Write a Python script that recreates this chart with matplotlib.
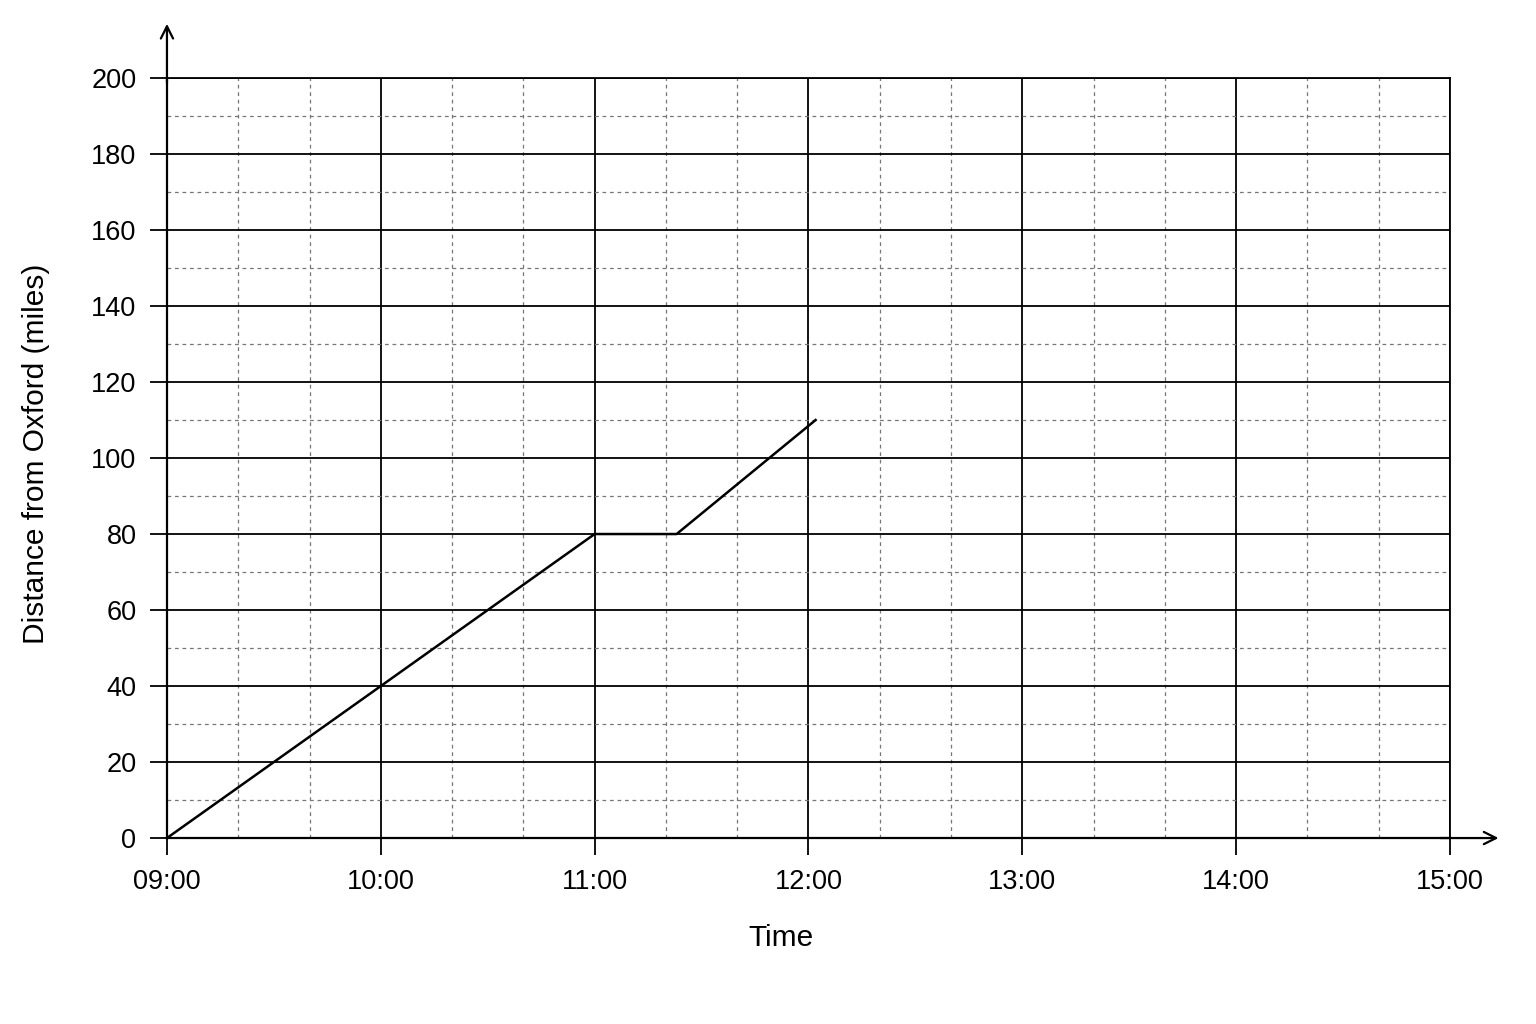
import matplotlib
matplotlib.use("Agg")
import matplotlib.pyplot as plt
import numpy as np

plt.rcParams['font.family'] = ['Liberation Sans', 'DejaVu Sans']

# Data (time in hours, distance in miles)
time_hours = [9.0, 11.0, 11 + 23/60, 12 + 2/60]
distance_miles = [0, 80, 80, 110]

x_tick_values = [9, 10, 11, 12, 13, 14, 15]
x_tick_labels = ["09:00", "10:00", "11:00", "12:00", "13:00", "14:00", "15:00"]
y_tick_values = [0, 20, 40, 60, 80, 100, 120, 140, 160, 180, 200]

fig = plt.figure(figsize=(15.36, 10.24), dpi=100)
ax = fig.add_axes([0.1087, 0.1816, 0.8353, 0.7422])

ax.plot(time_hours, distance_miles, color='black', lw=1.8, zorder=5, clip_on=False)

ax.set_xlim(9, 15)
ax.set_ylim(0, 200)
ax.set_xticks(x_tick_values)
ax.set_xticklabels(x_tick_labels)
ax.set_yticks(y_tick_values)
ax.set_xticks(np.arange(9, 15.001, 1/3), minor=True)
ax.set_yticks(np.arange(0, 201, 10), minor=True)

ax.grid(which='major', color='black', lw=1.3, ls='-')
ax.grid(which='minor', color='#777777', lw=0.9, ls=(0, (3, 3)))
ax.set_axisbelow(True)

ax.tick_params(which='major', direction='out', length=12, width=1.3, labelsize=19.5, pad=10, colors='black')
ax.tick_params(which='minor', length=0)

for s in ax.spines.values():
    s.set_linewidth(1.3)
    s.set_color('black')
ax.spines['left'].set_linewidth(1.6)
ax.spines['bottom'].set_linewidth(1.6)

# Axis arrows
ax.annotate('', xy=(0, 1.075), xycoords='axes fraction', xytext=(0, 0.99),
            arrowprops=dict(arrowstyle='->', color='black', lw=1.6, mutation_scale=22), annotation_clip=False)
ax.annotate('', xy=(1.04, 0), xycoords='axes fraction', xytext=(0.99, 0),
            arrowprops=dict(arrowstyle='->', color='black', lw=1.6, mutation_scale=22), annotation_clip=False)

ax.set_xlabel("Time", fontsize=21.5)
ax.set_ylabel("Distance from Oxford (miles)", fontsize=21.5)
ax.xaxis.set_label_coords(0.4786, -0.113)
ax.yaxis.set_label_coords(-0.0915, 0.505)

fig.savefig("out.png", dpi=100)
